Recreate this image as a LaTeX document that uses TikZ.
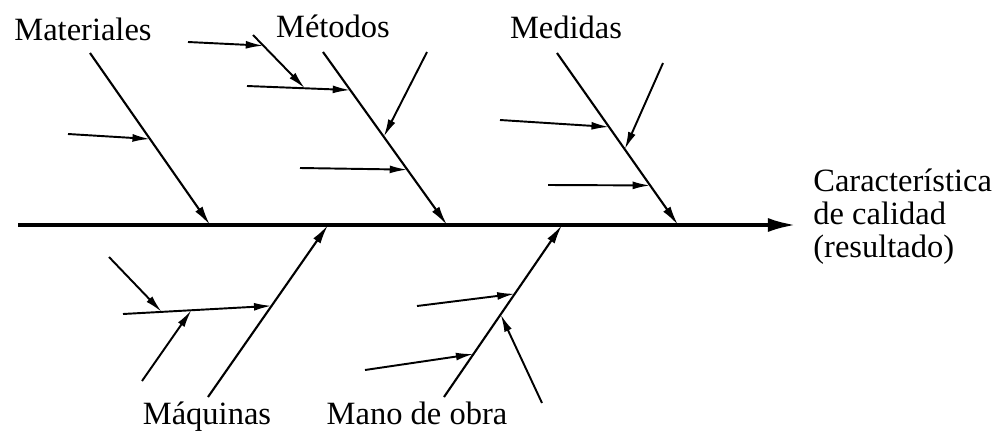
\documentclass[tikz,border=0pt]{standalone}
\usepackage{fontspec}
\setmainfont{Liberation Serif}
\usetikzlibrary{calc,arrows.meta}
\tikzset{
  spine/.style={line width=2.2pt,-{Latex[length=16pt,width=8pt]}},
  bone/.style={line width=1.2pt,-{Latex[length=11pt,width=5pt]}},
  twig/.style={line width=1.1pt,-{Latex[length=10pt,width=4.5pt]}},
  cause/.style={anchor=base,inner sep=0pt,font=\fontsize{18.5}{19}\selectfont},
  effect/.style={anchor=base west,inner sep=0pt,align=left,font=\fontsize{18.5}{18.5}\selectfont}
}
\begin{document}
\begin{tikzpicture}[x=0.02cm,y=-0.02cm]
\useasboundingbox (0,0) rectangle (998,433);
\def\bone#1#2#3{
\coordinate (#1a) at (#2);
\coordinate (#1b) at (#3);
\draw[bone] (#1a) -- (#1b);
}
\def\twig#1#2#3#4{
\coordinate (#1a) at (#2);
\coordinate (#1b) at ($(#3a)!#4!(#3b)$);
\draw[twig] (#1a) -- (#1b);
}
% main line
\coordinate (s0) at (18,225);
\coordinate (s1) at (796,225);
\draw[spine] (s0) -- (s1);
\node[effect] (res) at (813,257) {Característica\\de calidad\\(resultado)};
% big bones
\bone{mat}{90,53}{210,225}
\bone{met}{323,52}{447,225}
\bone{med}{557,53}{678,225}
\bone{maq}{208,397}{328,225}
\bone{man}{444,397}{562,225}
% small causes
\twig{mat1}{68,134}{mat}{0.5}
\twig{met1}{247,86}{met}{0.22}
\twig{met1x}{253,35}{met1}{0.56}
\twig{met1y}{188,42}{met1x}{0.2}
\twig{met2}{427,52}{met}{0.49}
\twig{met3}{300,168}{met}{0.68}
\twig{med1}{500,120}{med}{0.43}
\twig{med2}{663,63}{med}{0.56}
\twig{med3}{548,185}{med}{0.77}
\twig{maq1}{123,314}{maq}{0.53}
\twig{maq1x}{109,257}{maq1}{0.26}
\twig{maq1y}{142,381}{maq1}{0.46}
\twig{man1}{417,306}{man}{0.6}
\twig{man2}{365,370}{man}{0.25}
\twig{man3}{542,403}{man}{0.48}
% labels
\node[cause] (matl) at (83,40) {Materiales};
\node[cause] (metl) at (333,37) {Métodos};
\node[cause] (medl) at (566,38) {Medidas};
\node[cause] (maql) at (207,424) {Máquinas};
\node[cause] (manl) at (417,424) {Mano de obra};
\end{tikzpicture}
\end{document}
